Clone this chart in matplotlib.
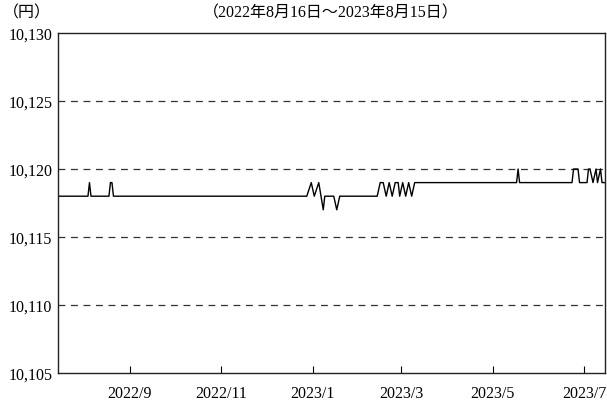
import matplotlib
matplotlib.use("Agg")
import matplotlib.pyplot as plt
import matplotlib.dates as mdates
import pandas as pd

plt.rcParams['font.family'] = ['Liberation Serif', 'Noto Sans CJK JP', 'DejaVu Sans']

# breakpoints of the price line (date, yen)
dates = [
    "2022-07-15", "2022-08-04", "2022-08-05", "2022-08-06",
    "2022-08-18", "2022-08-19", "2022-08-20", "2022-08-21",
    "2022-12-28", "2022-12-31", "2023-01-02", "2023-01-05", "2023-01-08", "2023-01-09",
    "2023-01-15", "2023-01-17", "2023-01-19",
    "2023-02-13", "2023-02-15", "2023-02-17", "2023-02-19", "2023-02-21", "2023-02-23",
    "2023-02-25", "2023-02-27", "2023-02-28", "2023-03-02", "2023-03-04", "2023-03-06",
    "2023-03-08", "2023-03-10",
    "2023-05-17", "2023-05-18", "2023-05-19",
    "2023-06-23", "2023-06-24", "2023-06-27", "2023-06-28",
    "2023-07-03", "2023-07-04", "2023-07-05", "2023-07-07", "2023-07-09", "2023-07-10",
    "2023-07-12", "2023-07-13", "2023-07-15",
]
values = [
    10118, 10118, 10119, 10118,
    10118, 10119, 10119, 10118,
    10118, 10119, 10118, 10119, 10117, 10118,
    10118, 10117, 10118,
    10118, 10119, 10119, 10118, 10119, 10118,
    10119, 10119, 10118, 10119, 10118, 10119,
    10118, 10119,
    10119, 10120, 10119,
    10119, 10120, 10120, 10119,
    10119, 10120, 10120, 10119, 10120, 10119,
    10120, 10119, 10119,
]

y_ticks = [10105, 10110, 10115, 10120, 10125, 10130]
y_labels = ["10,105", "10,110", "10,115", "10,120", "10,125", "10,130"]
x_ticks = ["2022-09-01", "2022-11-01", "2023-01-01", "2023-03-01", "2023-05-01", "2023-07-01"]
x_labels = ["2022/9", "2022/11", "2023/1", "2023/3", "2023/5", "2023/7"]

unit_label = "（円）"
period_label = "（2022年8月16日～2023年8月15日）"

fig = plt.figure(figsize=(6.07, 4.02), dpi=100)
ax = fig.add_axes([58/607, 28/402, 547/607, 340/402])

d = pd.to_datetime(dates)
ax.plot(d, values, color="black", lw=1.0)

ax.set_xlim(pd.Timestamp("2022-07-15"), pd.Timestamp("2023-07-15"))
ax.set_ylim(10105, 10130)

ax.set_yticks(y_ticks)
ax.set_yticklabels(y_labels)
ax.set_xticks(pd.to_datetime(x_ticks))
ax.set_xticklabels(x_labels)

for yv in y_ticks[1:-1]:
    ax.axhline(yv, color="#333333", lw=0.9, ls=(0, (5.5, 4.5)), zorder=0)

ax.tick_params(axis="y", length=0, pad=4, labelsize=11.5)
ax.tick_params(axis="x", direction="in", length=5, width=0.8, pad=9, labelsize=11.5)
for s in ax.spines.values():
    s.set_linewidth(1.0)
    s.set_color("#222222")

fig.text(27/607, 1 - 13/402, unit_label, ha="center", va="center", fontsize=11.5)
fig.text(331/607, 1 - 13/402, period_label, ha="center", va="center", fontsize=11.5)

fig.savefig("out.png", dpi=100)
